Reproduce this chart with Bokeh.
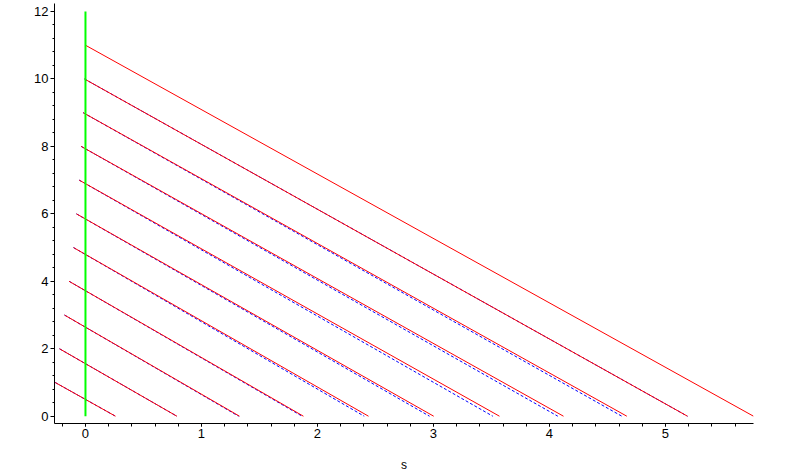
from bokeh.plotting import figure
from bokeh.models import Range1d, ColumnDataSource, FixedTicker
from bokeh.embed import file_html
from bokeh.resources import INLINE

# ---- data ----
start_y = [1, 2, 3, 4, 5, 6, 7, 8, 9, 10, 11]
start_x = [-0.261, -0.224, -0.181, -0.141, -0.103, -0.078, -0.054, -0.037, -0.020, -0.009, 0.0]
red_end_x = [0.259, 0.788, 1.328, 1.879, 2.440, 3.002, 3.569, 4.121, 4.667, 5.190, 5.759]
end_y = [0] * 11

blue_start_y = [1, 2, 3, 4, 5, 6, 7, 8, 9, 10]
blue_start_x = [-0.261, -0.224, -0.181, -0.141, -0.103, -0.078, -0.054, -0.037, -0.020, -0.009]
blue_end_x = [0.259, 0.788, 1.320, 1.868, 2.403, 2.966, 3.512, 4.072, 4.624, 5.190]
blue_end_y = [0] * 10

green_x = [0, 0]
green_y = [0, 12]

x_ticks = [0, 1, 2, 3, 4, 5]
y_ticks = [0, 2, 4, 6, 8, 10, 12]

p = figure(width=789, height=475, output_backend="svg", toolbar_location=None,
           x_range=Range1d(-0.267, 5.759), y_range=Range1d(-0.216, 12.237),
           min_border_left=54, min_border_right=36, min_border_top=3, min_border_bottom=52)
p.outline_line_color = None
p.xgrid.grid_line_color = None
p.ygrid.grid_line_color = None
p.background_fill_color = "white"
p.border_fill_color = "white"

blue_src = ColumnDataSource(dict(x0=blue_start_x, y0=blue_start_y, x1=blue_end_x, y1=blue_end_y))
p.segment(x0="x0", y0="y0", x1="x1", y1="y1", source=blue_src,
          line_color="#0000ff", line_width=1, line_dash="3 2")

red_src = ColumnDataSource(dict(x0=start_x, y0=start_y, x1=red_end_x, y1=end_y))
p.segment(x0="x0", y0="y0", x1="x1", y1="y1", source=red_src,
          line_color="#ff0000", line_width=1)

p.line(green_x, green_y, line_color="#00ff00", line_width=2)

for ax in (p.xaxis[0], p.yaxis[0]):
    ax.axis_line_color = "black"
    ax.major_tick_line_color = "black"
    ax.minor_tick_line_color = "black"
    ax.major_tick_in = 0
    ax.minor_tick_in = 0
    ax.major_label_text_font = "Liberation Sans"
    ax.major_label_text_font_size = "13px"
    ax.major_label_text_color = "black"
    ax.major_label_standoff = 2

p.xaxis.ticker = FixedTicker(ticks=x_ticks, minor_ticks=[round(-0.2 + 0.2 * i, 2) for i in range(30)])
p.yaxis.ticker = FixedTicker(ticks=y_ticks, minor_ticks=[round(0.4 * i, 2) for i in range(31)])
p.xaxis.major_tick_out = 3
p.xaxis.minor_tick_out = 3
p.yaxis.major_tick_out = 4
p.yaxis.minor_tick_out = 2

p.xaxis.axis_label = "s"
p.xaxis.axis_label_text_font = "Liberation Sans"
p.xaxis.axis_label_text_font_size = "12px"
p.xaxis.axis_label_text_font_style = "normal"
p.xaxis.axis_label_text_color = "black"
p.xaxis.axis_label_standoff = 17

open("out.html", "w").write(file_html(p, INLINE))
